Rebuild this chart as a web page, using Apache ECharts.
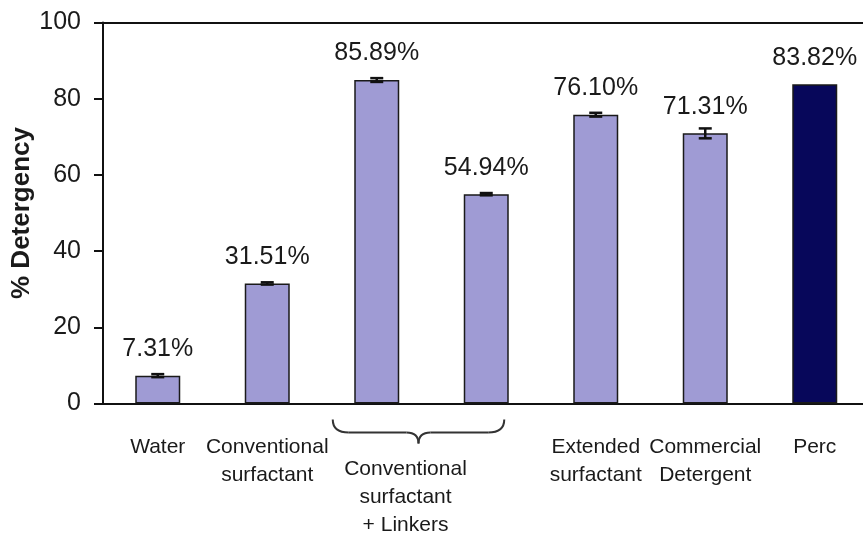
<!DOCTYPE html>
<html><head><meta charset="utf-8">
<script src="https://cdn.jsdelivr.net/npm/echarts@6/dist/echarts.min.js"></script>
<style>html,body{margin:0;padding:0;background:#fff}#c{width:863px;height:533px}</style>
</head><body><div id="c"></div>
<script>
var categories = ["Water", "Conventional\nsurfactant", "Linkers A", "Linkers B", "Extended\nsurfactant", "Commercial\nDetergent", "Perc"];
var axisLabels = ["Water", "Conventional\nsurfactant", "", "", "Extended\nsurfactant", "Commercial\nDetergent", "Perc"];
var values = [7.31, 31.51, 84.9, 54.94, 75.8, 70.9, 83.82];
var errors = [0.4, 0.3, 0.5, 0.3, 0.5, 1.3, 0];
var valueLabels = ["7.31%", "31.51%", "85.89%", "54.94%", "76.10%", "71.31%", "83.82%"];
var groupLabel = "Conventional\nsurfactant\n+ Linkers";
var yTicks = [0, 20, 40, 60, 80, 100];

var FONT = "Liberation Sans, Arial, sans-serif";
var TXT = "#1a1a1a";
var chart = echarts.init(document.getElementById('c'));
chart.setOption({
  animation: false,
  backgroundColor: '#fff',
  grid: {left: 103, top: 22.5, width: 766.5, bottom: 129.5, containLabel: false, outerBoundsMode: 'none'},
  xAxis: [{
    type: 'category', data: categories, position: 'bottom',
    axisLine: {lineStyle: {color: '#111', width: 2}},
    axisTick: {show: false},
    axisLabel: {color: TXT, fontFamily: FONT, fontSize: 21, lineHeight: 28, margin: 30, interval: 0,
      formatter: function (v, i) { return axisLabels[i]; }}
  }, {
    type: 'category', data: categories, position: 'top',
    axisLine: {lineStyle: {color: '#111', width: 2}},
    axisTick: {show: false}, axisLabel: {show: false}
  }],
  yAxis: {
    type: 'value', min: yTicks[0], max: yTicks[yTicks.length - 1], interval: 20,
    name: '% Detergency', nameLocation: 'middle', nameRotate: 90, nameGap: 68, nameMoveOverlap: false,
    nameTextStyle: {color: TXT, fontFamily: FONT, fontSize: 26, fontWeight: 'bold'},
    axisLine: {show: true, lineStyle: {color: '#111', width: 2}},
    axisTick: {show: true, inside: false, length: 9, lineStyle: {color: '#111', width: 2}},
    axisLabel: {color: TXT, fontFamily: FONT, fontSize: 25, margin: 22},
    splitLine: {show: false}
  },
  series: [{
    type: 'bar', barWidth: 45,
    data: values.map(function (v, i) {
      return {value: v, itemStyle: {color: i === values.length - 1 ? '#07075a' : '#9f9bd4'}};
    }),
    itemStyle: {borderColor: '#1a1a1a', borderWidth: 1.5},
    label: {show: true, position: 'top', distance: 14, color: TXT, fontFamily: FONT, fontSize: 25,
      formatter: function (p) { return valueLabels[p.dataIndex]; }}
  }, {
    type: 'custom',
    data: values.map(function (v, i) { return [i, v, errors[i]]; }),
    z: 10,
    renderItem: function (params, api) {
      var e = api.value(2);
      if (!e) return null;
      var hi = api.coord([api.value(0), api.value(1) + e]);
      var lo = api.coord([api.value(0), api.value(1) - e]);
      var hw = 6.5;
      var st = {stroke: '#111', lineWidth: 2.5};
      return {type: 'group', children: [
        {type: 'line', shape: {x1: hi[0], y1: hi[1], x2: lo[0], y2: lo[1]}, style: st},
        {type: 'line', shape: {x1: hi[0] - hw, y1: hi[1], x2: hi[0] + hw, y2: hi[1]}, style: st},
        {type: 'line', shape: {x1: lo[0] - hw, y1: lo[1], x2: lo[0] + hw, y2: lo[1]}, style: st}
      ]};
    }
  }]
});

// Brace and group label under the two "Linkers" bars
var c3 = chart.convertToPixel({xAxisIndex: 0}, categories[2]);
var c4 = chart.convertToPixel({xAxisIndex: 0}, categories[3]);
var y0 = chart.convertToPixel({yAxisIndex: 0}, 0);
var x1 = c3 - 44, x2 = c4 + 18, mid = (x1 + x2) / 2;
var yt = y0 + 16, yb = y0 + 29, ytip = y0 + 40;
var bs = {fill: null, stroke: '#333', lineWidth: 2};
function bez(ax, ay, cx, cy, bx, by) {
  return {type: 'bezierCurve', shape: {x1: ax, y1: ay, cpx1: cx, cpy1: cy, x2: bx, y2: by}, style: bs};
}
function seg(ax, ay, bx, by) {
  return {type: 'line', shape: {x1: ax, y1: ay, x2: bx, y2: by}, style: bs};
}
chart.setOption({graphic: [
  bez(x1, yt, x1, yb, x1 + 16, yb),
  seg(x1 + 16, yb, mid - 12, yb),
  bez(mid - 12, yb, mid, yb, mid, ytip),
  bez(mid, ytip, mid, yb, mid + 12, yb),
  seg(mid + 12, yb, x2 - 16, yb),
  bez(x2 - 16, yb, x2, yb, x2, yt),
  {type: 'text', x: (c3 + c4) / 2 - 26, y: y0 + 52, style: {text: groupLabel, fill: TXT,
    font: '21px ' + FONT, textAlign: 'center', textVerticalAlign: 'top', lineHeight: 28}}
]});
</script></body></html>
